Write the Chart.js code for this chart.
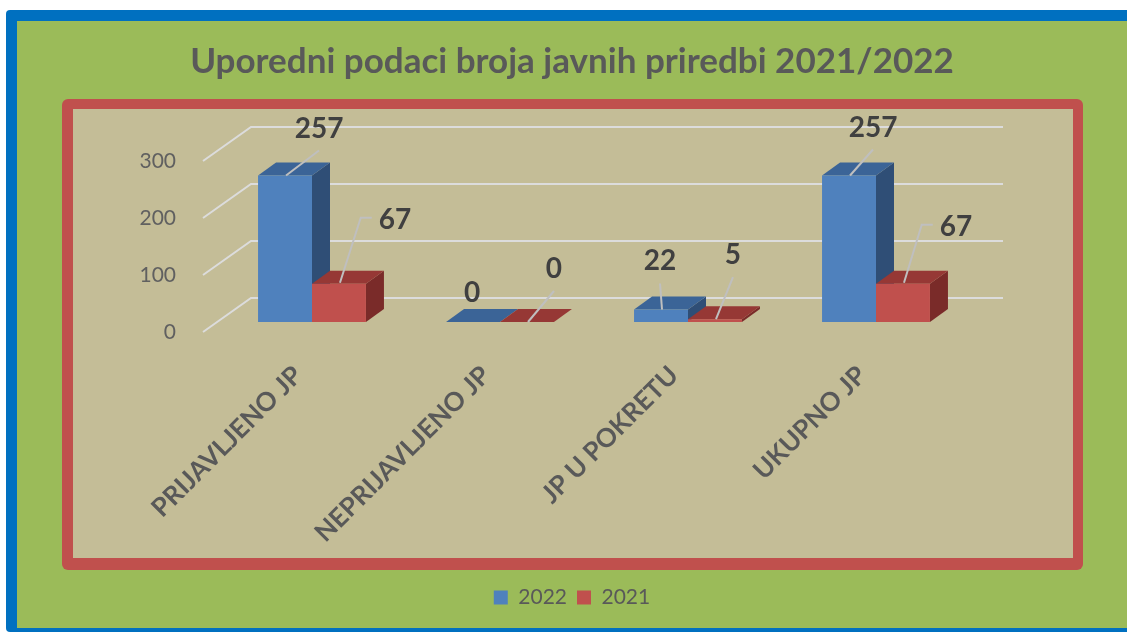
<!DOCTYPE html>
<html><head><meta charset="utf-8">
<script src="https://cdn.jsdelivr.net/npm/chart.js@4.4.1/dist/chart.umd.min.js"></script>
<style>html,body{margin:0;padding:0;background:#fff;overflow:hidden}canvas{display:block}</style>
</head><body>
<canvas id="c" width="1127" height="632"></canvas>
<script>
// ---- data ----
const categories = ['PRIJAVLJENO JP', 'NEPRIJAVLJENO JP', 'JP U POKRETU', 'UKUPNO JP'];
const seriesNames = ['2022', '2021'];
const values2022 = [257, 0, 22, 257];
const values2021 = [67, 0, 5, 67];
const yTicks = [0, 100, 200, 300];
const chartTitle = 'Uporedni podaci broja javnih priredbi 2021/2022';
// data-label placement relative to bar top (layout only)
const labelOffsets2022 = [[34, -47], [-1, -29], [-1, -48], [24, -48]];
const labelOffsets2021 = [[56, -64], [27, -53], [18, -64], [53, -57]];

// ---- styling ----
const FONT = 'Lato, "Open Sans", sans-serif';
const GREY = '#595959';
const PLANE = {x: 14, y: -10};   // bars plane relative to floor front edge
const DEPTH = {x: 18, y: -13};   // bar depth
const WALL = {x: 47, y: -34};    // back wall relative to floor front edge
const faceColors = [
  {top: '#3B6497', side: '#2F4E76'},
  {top: '#963835', side: '#7A2B29'}
];
const labelOffsets = [labelOffsets2022, labelOffsets2021];

const scene = {
  id: 'scene',
  beforeDraw(chart) {
    const ctx = chart.ctx;
    ctx.save();
    ctx.fillStyle = '#ffffff';
    ctx.fillRect(0, 0, 1127, 632);
    ctx.fillStyle = '#0070C0';
    ctx.beginPath(); ctx.roundRect(6, 10, 1130, 622, 4); ctx.fill();
    ctx.fillStyle = '#9BBB59';
    ctx.fillRect(17, 21, 1115, 607);
    ctx.fillStyle = '#C0504D';
    ctx.beginPath(); ctx.roundRect(62, 99, 1021, 471, 6); ctx.fill();
    ctx.fillStyle = '#C4BD97';
    ctx.fillRect(73, 109, 1000, 449);
    ctx.restore();
  },
  beforeDatasetsDraw(chart) {
    const ctx = chart.ctx;
    const area = chart.chartArea;
    const ys = chart.scales.y;
    ctx.save();
    ctx.strokeStyle = '#DCDCDC';
    ctx.lineWidth = 2;
    yTicks.forEach(v => {
      const y = ys.getPixelForValue(v);
      ctx.beginPath();
      ctx.moveTo(area.left - 1, y);
      ctx.lineTo(area.left + WALL.x, y + WALL.y);
      ctx.lineTo(area.right + WALL.x, y + WALL.y);
      ctx.stroke();
    });
    ctx.restore();
    ctx.save();
    ctx.translate(PLANE.x, PLANE.y);
    [0, 1].forEach(di => {
      const meta = chart.getDatasetMeta(di);
      const fc = faceColors[di];
      meta.data.forEach(el => {
        const p = el.getProps(['x', 'y', 'base', 'width'], true);
        const x0 = p.x - p.width / 2, x1 = p.x + p.width / 2;
        const top = Math.min(p.y, p.base), bot = Math.max(p.y, p.base);
        if (bot - top > 0.5) {
          ctx.fillStyle = fc.side;
          ctx.beginPath();
          ctx.moveTo(x1, top);
          ctx.lineTo(x1 + DEPTH.x, top + DEPTH.y);
          ctx.lineTo(x1 + DEPTH.x, bot + DEPTH.y);
          ctx.lineTo(x1, bot);
          ctx.closePath(); ctx.fill();
        }
        ctx.fillStyle = fc.top;
        ctx.beginPath();
        ctx.moveTo(x0, top);
        ctx.lineTo(x1, top);
        ctx.lineTo(x1 + DEPTH.x, top + DEPTH.y);
        ctx.lineTo(x0 + DEPTH.x, top + DEPTH.y);
        ctx.closePath(); ctx.fill();
      });
    });
  },
  afterDatasetsDraw(chart) {
    const ctx = chart.ctx;
    ctx.font = 'bold 28px ' + FONT;
    ctx.textAlign = 'center';
    ctx.textBaseline = 'middle';
    [0, 1].forEach(di => {
      const meta = chart.getDatasetMeta(di);
      const vals = chart.data.datasets[di].data;
      meta.data.forEach((el, j) => {
        const p = el.getProps(['x', 'y'], true);
        const off = labelOffsets[di][j];
        const lx = p.x + off[0], ly = p.y + off[1];
        const txt = String(vals[j]);
        const w = ctx.measureText(txt).width;
        ctx.strokeStyle = '#BFBFBF';
        ctx.lineWidth = 2;
        if (off[0] - w / 2 > 25) {
          const sx = lx - w / 2 - 7;
          ctx.beginPath();
          ctx.moveTo(sx, ly - 2);
          ctx.lineTo(sx - 11, ly - 2);
          ctx.lineTo(p.x + 1, p.y - 1);
          ctx.stroke();
        } else {
          const sy = ly + 22;
          if (Math.hypot(p.x - lx, p.y - sy) > 12) {
            ctx.beginPath();
            ctx.moveTo(lx, sy);
            ctx.lineTo(p.x + 1, p.y);
            ctx.stroke();
          }
        }
        ctx.fillStyle = '#404040';
        ctx.fillText(txt, lx, ly);
      });
    });
    ctx.restore();
  }
};

new Chart(document.getElementById('c'), {
  type: 'bar',
  data: {
    labels: categories,
    datasets: [
      {label: seriesNames[0], data: values2022, backgroundColor: '#4F81BD', borderWidth: 0,
       barPercentage: 1, categoryPercentage: 0.574},
      {label: seriesNames[1], data: values2021, backgroundColor: '#C0504D', borderWidth: 0,
       barPercentage: 1, categoryPercentage: 0.574}
    ]
  },
  options: {
    responsive: false,
    animation: false,
    devicePixelRatio: 1,
    layout: {padding: {left: 17, right: 0, top: 0, bottom: 14}},
    plugins: {
      tooltip: {enabled: false},
      title: {
        display: true, text: chartTitle, color: GREY,
        font: {family: FONT, size: 35, weight: 'bold'},
        padding: {top: 41, bottom: 78}
      },
      legend: {
        position: 'bottom',
        labels: {boxWidth: 14, boxHeight: 14, color: GREY, padding: 10,
                 font: {family: FONT, size: 21}}
      }
    },
    scales: {
      x: {
        grid: {display: false}, border: {display: false},
        ticks: {color: GREY, font: {family: FONT, size: 26, weight: 'bold'},
                minRotation: 45, maxRotation: 45, autoSkip: false, padding: 20},
        afterFit(s) { s.height = 245; }
      },
      y: {
        min: 0, max: 300,
        grid: {display: false}, border: {display: false},
        afterBuildTicks(s) { s.ticks = yTicks.map(v => ({value: v})); },
        ticks: {color: '#606060', font: {family: FONT, size: 21}, padding: 20},
        afterFit(s) { s.width = 187; }
      },
      yRight: {
        position: 'right', display: true,
        grid: {display: false}, border: {display: false},
        ticks: {display: false},
        afterFit(s) { s.width = 171; }
      }
    }
  },
  plugins: [scene]
});
</script>
</body></html>
